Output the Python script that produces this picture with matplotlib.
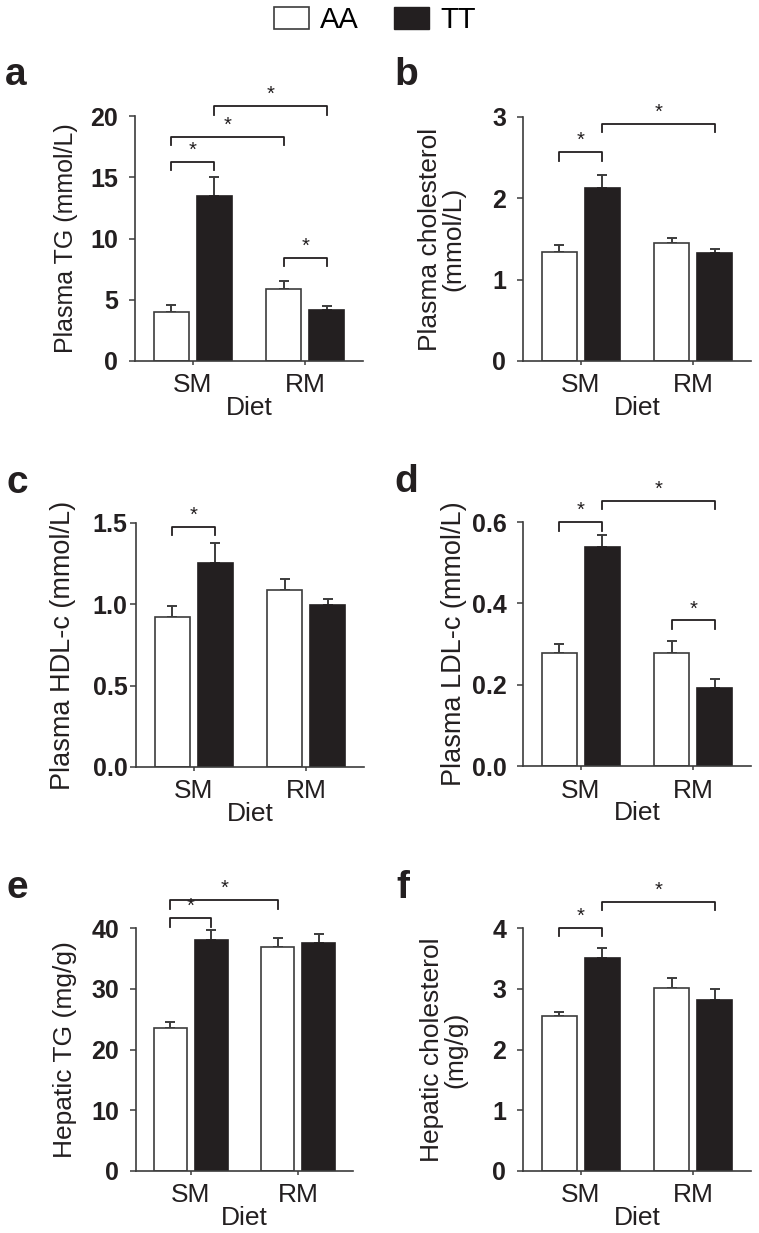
import matplotlib
matplotlib.use("Agg")
import matplotlib.pyplot as plt
import numpy as np
from matplotlib.patches import Patch

plt.rcParams['font.family'] = ['Liberation Sans', 'DejaVu Sans']

W, H = 759, 1233
DARK = '#231f20'
EDGE = '#3c3c3c'

groups = ['SM', 'RM']
genotypes = ['AA', 'TT']

# mean values and error (upper) for each panel, order SM, RM
plasma_tg_aa = [4.0, 5.85]
plasma_tg_aa_err = [0.55, 0.65]
plasma_tg_tt = [13.45, 4.15]
plasma_tg_tt_err = [1.55, 0.35]

plasma_chol_aa = [1.34, 1.445]
plasma_chol_aa_err = [0.09, 0.065]
plasma_chol_tt = [2.13, 1.33]
plasma_chol_tt_err = [0.16, 0.045]

hdl_aa = [0.924, 1.088]
hdl_aa_err = [0.066, 0.068]
hdl_tt = [1.254, 0.994]
hdl_tt_err = [0.121, 0.041]

ldl_aa = [0.278, 0.279]
ldl_aa_err = [0.022, 0.028]
ldl_tt = [0.539, 0.193]
ldl_tt_err = [0.028, 0.020]

hep_tg_aa = [23.6, 36.8]
hep_tg_aa_err = [1.0, 1.5]
hep_tg_tt = [38.1, 37.5]
hep_tg_tt_err = [1.6, 1.45]

hep_chol_aa = [2.55, 3.01]
hep_chol_aa_err = [0.07, 0.16]
hep_chol_tt = [3.50, 2.82]
hep_chol_tt_err = [0.17, 0.17]

# significance brackets: (bar from, bar to, height) bars: 0 SM-AA, 1 SM-TT, 2 RM-AA, 3 RM-TT
sig_a = [(0, 1, 16.27), (0, 2, 18.3), (1, 3, 20.8), (2, 3, 8.43)]
sig_b = [(0, 1, 2.57), (1, 3, 2.92)]
sig_c = [(0, 1, 1.478)]
sig_d = [(0, 1, 0.599), (1, 3, 0.652), (2, 3, 0.358)]
sig_e = [(0, 1, 41.64), (0, 2, 44.55)]
sig_f = [(0, 1, 4.005), (1, 3, 4.43)]

panels = [
    dict(letter='a', box=(135, 116, 363, 361), aa=plasma_tg_aa, aa_err=plasma_tg_aa_err,
         tt=plasma_tg_tt, tt_err=plasma_tg_tt_err, ticks=[0, 5, 10, 15, 20], fmt='{:.0f}',
         ylabel='Plasma TG (mmol/L)', ylab_x=66, ylab_size=18, sig=sig_a, pad=8,
         letter_xy=(5, 85)),
    dict(letter='b', box=(523, 117, 751, 361), aa=plasma_chol_aa, aa_err=plasma_chol_aa_err,
         tt=plasma_chol_tt, tt_err=plasma_chol_tt_err, ticks=[0, 1, 2, 3], fmt='{:.0f}',
         ylabel='Plasma cholesterol\n(mmol/L)', ylab_x=442, ylab_size=19, sig=sig_b, pad=8,
         letter_xy=(394, 85)),
    dict(letter='c', box=(136, 523, 364, 767), aa=hdl_aa, aa_err=hdl_aa_err,
         tt=hdl_tt, tt_err=hdl_tt_err, ticks=[0, 0.5, 1.0, 1.5], fmt='{:.1f}',
         ylabel='Plasma HDL-c (mmol/L)', ylab_x=63, ylab_size=19.5, sig=sig_c, pad=2,
         letter_xy=(6, 493)),
    dict(letter='d', box=(523, 522, 751, 766), aa=ldl_aa, aa_err=ldl_aa_err,
         tt=ldl_tt, tt_err=ldl_tt_err, ticks=[0, 0.2, 0.4, 0.6], fmt='{:.1f}',
         ylabel='Plasma LDL-c (mmol/L)', ylab_x=454, ylab_size=19.5, sig=sig_d, pad=8,
         letter_xy=(394, 492)),
    dict(letter='e', box=(136, 928, 353, 1171), aa=hep_tg_aa, aa_err=hep_tg_aa_err,
         tt=hep_tg_tt, tt_err=hep_tg_tt_err, ticks=[0, 10, 20, 30, 40], fmt='{:.0f}',
         ylabel='Hepatic TG (mg/g)', ylab_x=65, ylab_size=19, sig=sig_e, pad=8,
         letter_xy=(6, 898)),
    dict(letter='f', box=(523, 928, 751, 1171), aa=hep_chol_aa, aa_err=hep_chol_aa_err,
         tt=hep_chol_tt, tt_err=hep_chol_tt_err, ticks=[0, 1, 2, 3, 4], fmt='{:.0f}',
         ylabel='Hepatic cholesterol\n(mg/g)', ylab_x=444, ylab_size=19, sig=sig_f, pad=8,
         letter_xy=(396, 898)),
]

fig = plt.figure(figsize=(W / 100, H / 100), dpi=100)

width = 0.31
offset = 0.19
x = np.arange(len(groups))

for p in panels:
    l, t, r, b = p['box']
    ax = fig.add_axes([l / W, 1 - b / H, (r - l) / W, (b - t) / H])
    ax.bar(x - offset, p['aa'], width, color='white', edgecolor=EDGE, linewidth=1.2, zorder=2)
    ax.bar(x + offset, p['tt'], width, color=DARK, edgecolor=DARK, linewidth=1.2, zorder=2)
    ax.errorbar(x - offset, p['aa'], yerr=[np.zeros(2), p['aa_err']], fmt='none',
                ecolor=EDGE, elinewidth=1.4, capsize=3.3, capthick=1.4, zorder=1)
    ax.errorbar(x + offset, p['tt'], yerr=[np.zeros(2), p['tt_err']], fmt='none',
                ecolor=EDGE, elinewidth=1.4, capsize=3.3, capthick=1.4, zorder=1)

    ymax = p['ticks'][-1]
    ax.set_ylim(0, ymax)
    ax.set_xlim(-0.51, 1.51)
    ax.set_yticks(p['ticks'])
    ax.set_yticklabels([p['fmt'].format(v) for v in p['ticks']], fontsize=18,
                       fontweight='bold', color=DARK)
    ax.set_xticks(x)
    ax.set_xticklabels(groups, fontsize=19, color=DARK)
    ax.tick_params(axis='y', length=4, width=1.1, color=EDGE, pad=p['pad'])
    ax.tick_params(axis='x', length=3, width=1.1, color=EDGE, pad=6)
    for s in ['top', 'right']:
        ax.spines[s].set_visible(False)
    for s in ['left', 'bottom']:
        ax.spines[s].set_color(EDGE)
        ax.spines[s].set_linewidth(1.2)

    centers = [x[0] - offset, x[0] + offset, x[1] - offset, x[1] + offset]
    tick_h = 0.035 * ymax
    for i, j, yb in p['sig']:
        ax.plot([centers[i], centers[i], centers[j], centers[j]],
                [yb - tick_h, yb, yb, yb - tick_h], color=DARK, lw=1.3,
                clip_on=False, zorder=3)
        ax.annotate('*', xy=((centers[i] + centers[j]) / 2, yb), xytext=(0, 1.5),
                    textcoords='offset points', ha='center', va='bottom',
                    fontsize=14.5, color=DARK, annotation_clip=False)

    # axis titles
    fig.text(p['ylab_x'] / W, 1 - (t + b) / 2 / H, p['ylabel'], rotation=90,
             ha='center', va='center', fontsize=p['ylab_size'], color=DARK,
             linespacing=0.95)
    fig.text((l + r) / 2 / W, 1 - (b + 35) / H, 'Diet', ha='center', va='top',
             fontsize=19, color=DARK)
    lx, ly = p['letter_xy']
    fig.text(lx / W, 1 - ly / H, p['letter'], ha='left', va='baseline',
             fontsize=28, fontweight='bold', color=DARK)

handles = [Patch(facecolor='white', edgecolor=EDGE, linewidth=1.2),
           Patch(facecolor=DARK, edgecolor=DARK)]
fig.legend(handles, genotypes, loc='upper center', bbox_to_anchor=(0.494, 1.0),
           ncol=2, frameon=False, fontsize=21, handlelength=1.2, handleheight=0.8,
           handletextpad=0.4, columnspacing=1.2, borderpad=0.1, borderaxespad=0.1)

fig.savefig('out.png', dpi=100)
